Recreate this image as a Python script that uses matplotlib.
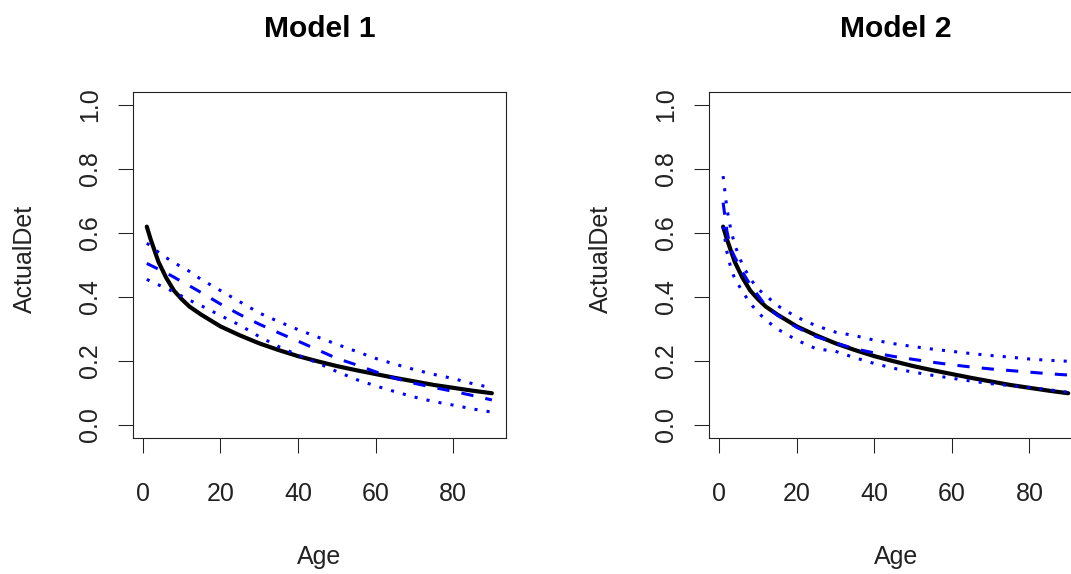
import numpy as np
import matplotlib
matplotlib.use("Agg")
import matplotlib.pyplot as plt

# values
age = [1, 2, 3, 4, 6, 8, 10, 12, 15, 20, 25, 30, 35, 40, 45, 50, 55, 60, 65, 70, 75, 80, 85, 90]

# true detection curve, same in both panels
actual_det = [0.62, 0.58, 0.545, 0.51, 0.46, 0.42, 0.393, 0.37, 0.345, 0.308, 0.28, 0.255,
              0.234, 0.215, 0.199, 0.184, 0.171, 0.159, 0.147, 0.136, 0.125, 0.116, 0.107, 0.099]

# Model 1: fitted curve and its band
model1_fit = [0.505, 0.499, 0.493, 0.487, 0.475, 0.462, 0.448, 0.435, 0.414, 0.378, 0.345, 0.315,
              0.288, 0.262, 0.235, 0.208, 0.188, 0.166, 0.146, 0.13, 0.117, 0.105, 0.092, 0.078]
model1_upper = [0.568, 0.56, 0.55, 0.54, 0.523, 0.507, 0.494, 0.48, 0.455, 0.42, 0.385, 0.35,
                0.323, 0.298, 0.275, 0.252, 0.23, 0.208, 0.19, 0.173, 0.158, 0.145, 0.129, 0.116]
model1_lower = [0.455, 0.449, 0.443, 0.438, 0.427, 0.416, 0.403, 0.39, 0.373, 0.342, 0.312, 0.276,
                0.245, 0.218, 0.194, 0.167, 0.142, 0.122, 0.104, 0.087, 0.073, 0.062, 0.05, 0.04]

# Model 2: fitted curve and its band
model2_fit = [0.695, 0.605, 0.55, 0.525, 0.478, 0.438, 0.405, 0.372, 0.343, 0.305, 0.276, 0.256,
              0.238, 0.225, 0.214, 0.205, 0.196, 0.188, 0.181, 0.175, 0.17, 0.165, 0.16, 0.156]
model2_upper = [0.778, 0.675, 0.61, 0.563, 0.50, 0.457, 0.425, 0.405, 0.373, 0.337, 0.31, 0.29,
                0.279, 0.265, 0.254, 0.245, 0.237, 0.23, 0.223, 0.217, 0.212, 0.206, 0.202, 0.199]
model2_lower = [0.62, 0.54, 0.49, 0.457, 0.417, 0.38, 0.352, 0.328, 0.30, 0.265, 0.238, 0.23,
                0.21, 0.192, 0.177, 0.165, 0.155, 0.146, 0.137, 0.129, 0.123, 0.117, 0.11, 0.102]

titles = ["Model 1", "Model 2"]
x_ticks = [0, 20, 40, 60, 80]
y_ticks = [0.0, 0.2, 0.4, 0.6, 0.8, 1.0]
x_label = "Age"
y_label = "ActualDet"

W, H = 1071, 574
FONT = "Liberation Sans"


def px_rect(left, top, right, bottom):
    return [left / W, 1 - bottom / H, (right - left) / W, (bottom - top) / H]


def draw_panel(fig, rect, fit, lower, upper, title):
    ax = fig.add_axes(rect)
    #black true curve first, blue lines on top like R lines()
    ax.plot(age, actual_det, color="black", lw=3.0, solid_capstyle="round")
    ax.plot(age, upper, color="blue", lw=2.2, dashes=(1, 3), dash_capstyle="butt")
    ax.plot(age, lower, color="blue", lw=2.2, dashes=(1, 3), dash_capstyle="butt")
    ax.plot(age, fit, color="blue", lw=2.2, dashes=(4, 4), dash_capstyle="butt")

    #R style 4% padding on both axes
    span = age[-1] - age[0]
    ax.set_xlim(age[0] - 0.04 * span, age[-1] + 0.04 * span)
    ax.set_ylim(-0.04, 1.04)
    ax.set_xticks(x_ticks)
    ax.set_yticks(y_ticks)
    ax.set_xticklabels([str(t) for t in x_ticks])
    ax.set_yticklabels(["%.1f" % t for t in y_ticks], rotation=90, va="center")
    ax.tick_params(axis="both", direction="out", length=10.8, width=0.75,
                   labelsize=18, color="#222222")
    ax.tick_params(axis="x", pad=21)
    ax.tick_params(axis="y", pad=11.5)
    for lab in ax.get_xticklabels() + ax.get_yticklabels():
        lab.set_fontfamily(FONT)
        lab.set_color("#222222")
    for sp in ax.spines.values():
        sp.set_linewidth(0.8)
        sp.set_color("#222222")

    ax.set_title(title, fontsize=21.6, fontweight="bold", family=FONT, pad=40)

    #axis titles placed in figure pixels
    pos = ax.get_position()
    cx = pos.x0 + pos.width / 2
    fig.text(cx, 1 - 564 / H, x_label, ha="center", va="baseline",
             fontsize=18, family=FONT, color="#222222")
    fig.text(pos.x0 - 108 / W, 1 - 259 / H, y_label, ha="center", va="center",
             rotation=90, fontsize=18, family=FONT, color="#222222")
    return ax


def main():
    fig = plt.figure(figsize=(W / 100, H / 100), dpi=100)
    fig.patch.set_facecolor("white")

    draw_panel(fig, px_rect(133, 92.3, 505.7, 437.7), model1_fit, model1_lower, model1_upper, titles[0])
    #right panel runs past the picture edge, as in the reference
    draw_panel(fig, px_rect(709.3, 92.3, 1082, 437.7), model2_fit, model2_lower, model2_upper, titles[1])

    fig.savefig("out.png", dpi=100, facecolor="white")


if __name__ == "__main__":
    main()
